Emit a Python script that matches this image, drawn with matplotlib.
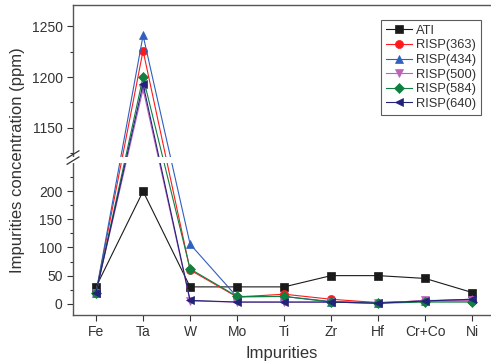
import numpy as np
import matplotlib
matplotlib.use('Agg')
import matplotlib.pyplot as plt
from matplotlib.patches import Rectangle
import matplotlib.transforms as mtransforms

plt.rcParams['font.family'] = ['Liberation Sans', 'DejaVu Sans']

# data
impurities = ['Fe', 'Ta', 'W', 'Mo', 'Ti', 'Zr', 'Hf', 'Cr+Co', 'Ni']
ati = [30, 200, 30, 30, 30, 50, 50, 45, 20]
risp363 = [20, 1226, 60, 12, 17, 8, 2, 5, 5]
risp434 = [20, 1241, 106, 12, 13, 4, 2, 5, 8]
risp500 = [20, 1188, 5, 3, 3, 3, 1, 6, 6]
risp584 = [20, 1200, 62, 13, 13, 3, 1, 3, 3]
risp640 = [20, 1193, 6, 3, 3, 3, 1, 5, 8]

series = [
    ('ATI', ati, '#1a1a1a', 's'),
    ('RISP(363)', risp363, '#ff1a1a', 'o'),
    ('RISP(434)', risp434, '#2f5fbf', '^'),
    ('RISP(500)', risp500, '#c060c0', 'v'),
    ('RISP(584)', risp584, '#108040', 'D'),
    ('RISP(640)', risp640, '#22227a', '<'),
]

# broken axis: piecewise linear scale
brk_val = [-20, 250, 1121, 1271]
brk_pix = [0, 151.9, 157.9, 310]

def fwd(v):
    return np.interp(v, brk_val, brk_pix)

def inv(p):
    return np.interp(p, brk_pix, brk_val)

def main():
    fig = plt.figure(figsize=(4.91, 3.63), dpi=100)
    ax = fig.add_axes([0.1487, 0.1322, 0.8513, 0.854])
    x = np.arange(len(impurities))
    txt = '#333333'

    ax.set_yscale('function', functions=(fwd, inv))
    for name, vals, col, mk in series:
        ms = 5.0 if mk == 'D' else 5.8
        ax.plot(x, vals, color=col, marker=mk, markersize=ms, linewidth=0.8,
                label=name, markeredgewidth=0.5)

    ax.set_xlim(-0.49, 8.4)
    ax.set_ylim(-20, 1271)
    ax.set_yticks([0, 50, 100, 150, 200, 1150, 1200, 1250])
    ax.set_yticks([25, 75, 125, 175, 225, 1125, 1175, 1225], minor=True)
    ax.set_yticklabels(['0', '50', '100', '150', '200', '1150', '1200', '1250'])
    ax.set_xticks(x)
    ax.set_xticklabels(impurities)
    ax.spines['right'].set_visible(False)
    ax.tick_params(direction='out', colors=txt, labelsize=10, length=4,
                   width=0.8, labelcolor=txt)
    ax.tick_params(which='minor', direction='out', length=2.5, width=0.8, colors=txt)
    ax.tick_params(axis='x', which='minor', bottom=False)
    for s in ax.spines.values():
        s.set_color('#555555')
        s.set_linewidth(1.0)

    ax.set_xlabel('Impurities', fontsize=12, color=txt, labelpad=5)
    fig.text(0.035, 0.56, 'Impurities concentration (ppm)', rotation=90,
             fontsize=12, color=txt, ha='center', va='center')

    # white gap across the break
    trans = mtransforms.blended_transform_factory(ax.transAxes, ax.transData)
    ax.add_patch(Rectangle((-0.02, 250), 1.03, 871, transform=trans,
                           facecolor='white', edgecolor='none',
                           clip_on=False, zorder=5))
    # break marks on the left spine
    for yb in (0.5575, 0.5745):
        fig.add_artist(plt.Line2D([0.1487 - 0.012, 0.1487 + 0.012],
                                  [yb - 0.010, yb + 0.010],
                                  color='#333333', linewidth=0.9, zorder=6))

    leg = ax.legend(loc='upper right', bbox_to_anchor=(0.977, 0.953),
                    fontsize=9.3, frameon=True, fancybox=False,
                    handlelength=2.0, handletextpad=0.3,
                    labelspacing=0.2, borderpad=0.4, borderaxespad=0)
    leg.get_frame().set_edgecolor('#333333')
    leg.get_frame().set_linewidth(0.8)
    leg.set_zorder(7)
    for t in leg.get_texts():
        t.set_color(txt)

    plt.savefig('out.png', dpi=100)

if __name__ == "__main__":
    main()
